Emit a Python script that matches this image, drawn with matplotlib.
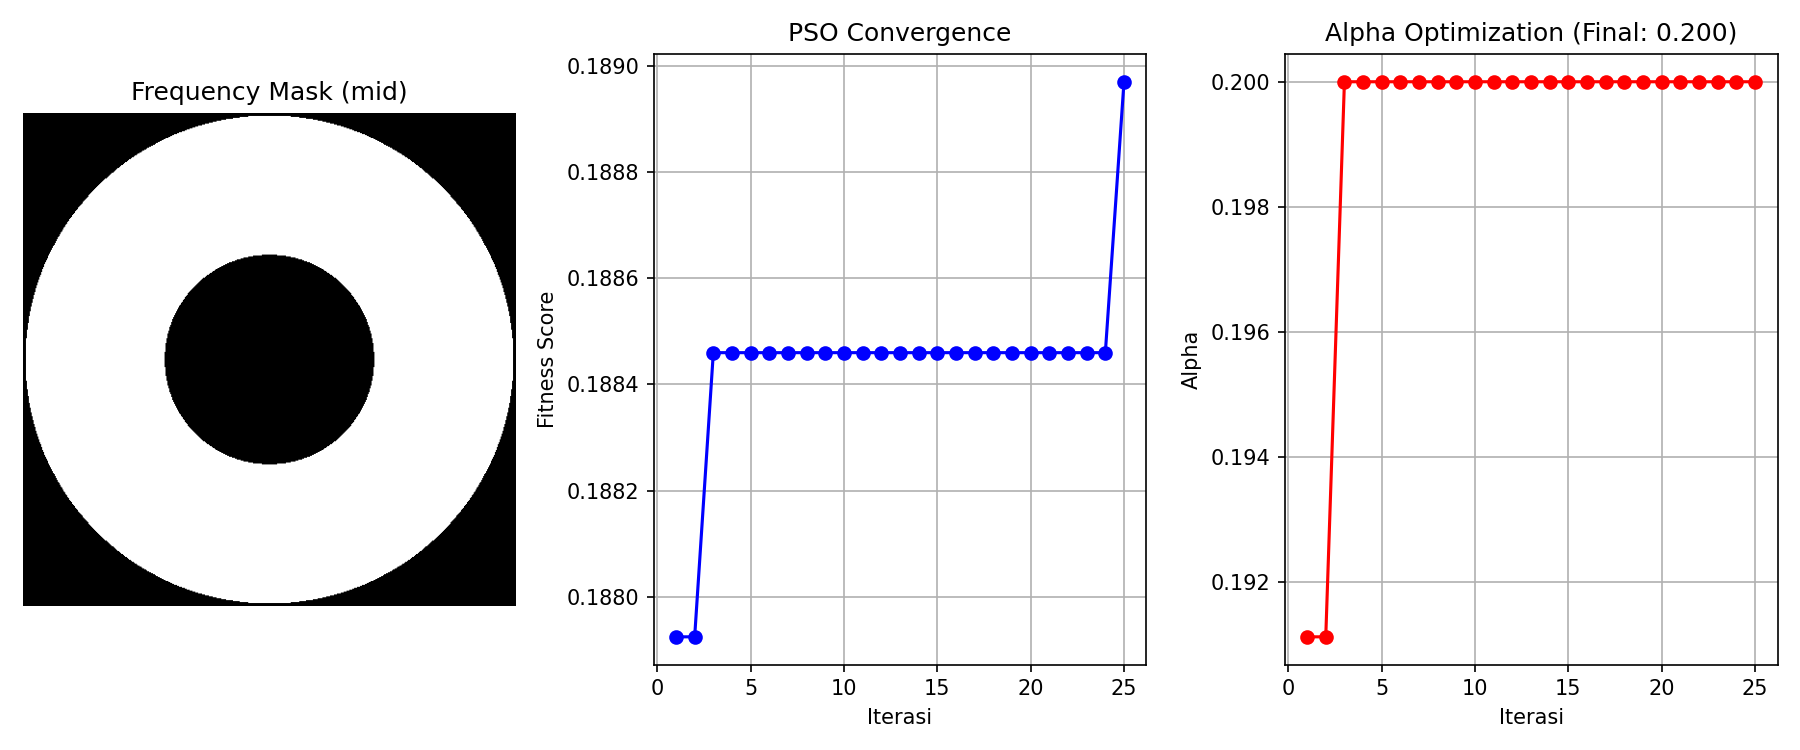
import matplotlib
matplotlib.use("Agg")
import matplotlib.pyplot as plt
import numpy as np

# Mask settings (normalised radius, 1.0 = half the image width).
MASK_SIZE = 512
MASK_R_INNER = 0.425
MASK_R_OUTER = 0.99

# PSO history per iteration.
iterations = list(range(1, 26))
fitness_scores = [0.187924, 0.187924] + [0.188460] * 22 + [0.188971]
alpha_values = [0.19112, 0.19112] + [0.200] * 23


def build_mask(size, r_inner, r_outer):
    # Band-pass ring: ones between the two radii.
    c = (size - 1) / 2
    yy, xx = np.mgrid[0:size, 0:size]
    r = np.sqrt((xx - c) ** 2 + (yy - c) ** 2) / (size / 2)
    return ((r >= r_inner) & (r <= r_outer)).astype(float)


def plot_results():
    fig, axes = plt.subplots(1, 3, figsize=(12, 5), dpi=150)

    # Frequency mask.
    mask = build_mask(MASK_SIZE, MASK_R_INNER, MASK_R_OUTER)
    axes[0].imshow(mask, cmap="gray")
    axes[0].set_title("Frequency Mask (mid)")
    axes[0].axis("off")

    # Fitness convergence.
    axes[1].plot(iterations, fitness_scores, "b-o")
    axes[1].set_title("PSO Convergence")
    axes[1].set_xlabel("Iterasi")
    axes[1].set_ylabel("Fitness Score")
    axes[1].grid(True)

    # Alpha history.
    axes[2].plot(iterations, alpha_values, "r-o")
    axes[2].set_title(f"Alpha Optimization (Final: {alpha_values[-1]:.3f})")
    axes[2].set_xlabel("Iterasi")
    axes[2].set_ylabel("Alpha")
    axes[2].grid(True)

    plt.tight_layout()
    plt.savefig("out.png")
    plt.close()


if __name__ == "__main__":
    plot_results()
